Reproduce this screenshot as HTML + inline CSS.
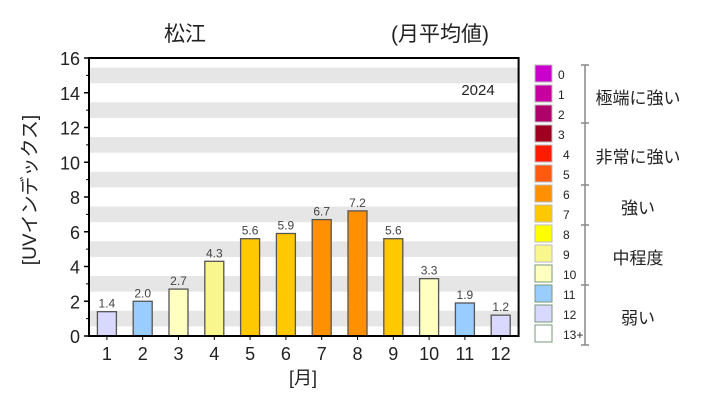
<!DOCTYPE html>
<html><head><meta charset="utf-8"><style>
body{margin:0;background:#fff;}
svg text{font-family:"Liberation Sans","Noto Sans CJK JP",sans-serif;}
</style></head><body>
<svg id="c" width="720" height="411" xmlns="http://www.w3.org/2000/svg">
<text x="185" y="41" font-size="21" text-anchor="middle" fill="#222">松江</text>
<text x="440" y="41" font-size="21" text-anchor="middle" fill="#222">(月平均値)</text>
<g id="plot"></g>
<text x="478" y="95" font-size="15" text-anchor="middle" fill="#222">2024</text>
<text transform="translate(36,190) rotate(-90)" font-size="19" text-anchor="middle" fill="#222">[UVインデックス]</text>
<text x="303" y="384" font-size="18" text-anchor="middle" fill="#222">[月]</text>
<g id="legend"></g>
</svg>
<script>
const months=["1","2","3","4","5","6","7","8","9","10","11","12"];
const uvValues=[1.4,2.0,2.7,4.3,5.6,5.9,6.7,7.2,5.6,3.3,1.9,1.2];
const yTicks=[0,2,4,6,8,10,12,14,16];
const levelColors=["#ffffff","#d9d9ff","#99ccff","#ffffc0","#f9f68e","#ffff00","#ffc800","#ff9100","#ff5a10","#ff1a00","#a00020","#b0006a","#c800a0","#cc00cc"];
const levelLabels=["0","1","2","3","4","5","6","7","8","9","10","11","12","13+"];
const groupNames=["極端に強い","非常に強い","強い","中程度","弱い"];
const NS="http://www.w3.org/2000/svg";
const L=89,R=518.6,T=58,B=336,yMax=16;
const y=v=>B-(v/yMax)*(B-T);
const bw=(R-L)/months.length;
const x=i=>L+bw*(i+0.5);
const plot=document.getElementById('plot');
function mk(tag,a,parent){const e=document.createElementNS(NS,tag);for(const k in a)e.setAttribute(k,a[k]);(parent||plot).appendChild(e);return e;}
for(let v=1;v<yMax;v+=2){
 const e=mk('rect',{x:L,y:y(v+0.45),width:R-L,height:y(v-0.45)-y(v+0.45),fill:'#e6e6e6'});
 
 
}
yTicks.forEach(t=>{
 const tx=mk('text',{x:80,y:y(t)+7,'font-size':18,'text-anchor':'end',fill:'#222'});tx.textContent=t;
 
 
 mk('line',{x1:L-5,x2:L,y1:y(t),y2:y(t),stroke:'#000','stroke-width':1.5});
});
for(let v=1;v<yMax;v+=2){mk('line',{x1:L-3,x2:L,y1:y(v),y2:y(v),stroke:'#000'});}
uvValues.forEach((v,i)=>{
 const lvl=Math.min(13,Math.round(v));
 const r=mk('rect',{x:x(i)-9.5,y:y(v),width:19,height:B-y(v),fill:levelColors[lvl],stroke:'#555','stroke-width':1.3});
 
 
 const t=mk('text',{x:x(i),y:y(v)-4,'font-size':12,'text-anchor':'middle',fill:'#444'});t.textContent=v.toFixed(1);
 
 
 const m=mk('text',{x:x(i),y:360,'font-size':18,'text-anchor':'middle',fill:'#222'});m.textContent=months[i];
 
 
 mk('line',{x1:x(i),x2:x(i),y1:B,y2:B+4,stroke:'#000'});
});
const fr=mk('rect',{x:L,y:T,width:R-L,height:B-T,fill:'none',stroke:'#000','stroke-width':2});


const lg=document.getElementById('legend');
levelLabels.forEach((lab,i)=>{
 const k=13-i, yy=65+i*20;
 const s=mk('rect',{x:535,y:yy,width:17,height:17,fill:levelColors[k],stroke:k<=3?'#7a9a7a':'#bbb','stroke-width':1},lg);
 
 
 const t=mk('text',{x:k>=10?558:563,y:yy+14,'font-size':12,fill:'#222'},lg);t.textContent=lab;
 
 
});
mk('line',{x1:585,x2:585,y1:65,y2:345,stroke:'#888','stroke-width':1.5},lg);
[65,123,185,225,285,345].forEach(t=>mk('line',{x1:581,x2:589,y1:t,y2:t,stroke:'#888','stroke-width':1.5},lg));
const gy=[104,163,214,264,324];
groupNames.forEach((g,i)=>{
 const t=mk('text',{x:638,y:gy[i],'font-size':17,'text-anchor':'middle',fill:'#222'},lg);t.textContent=g;
 
 
});
</script>
</body></html>
